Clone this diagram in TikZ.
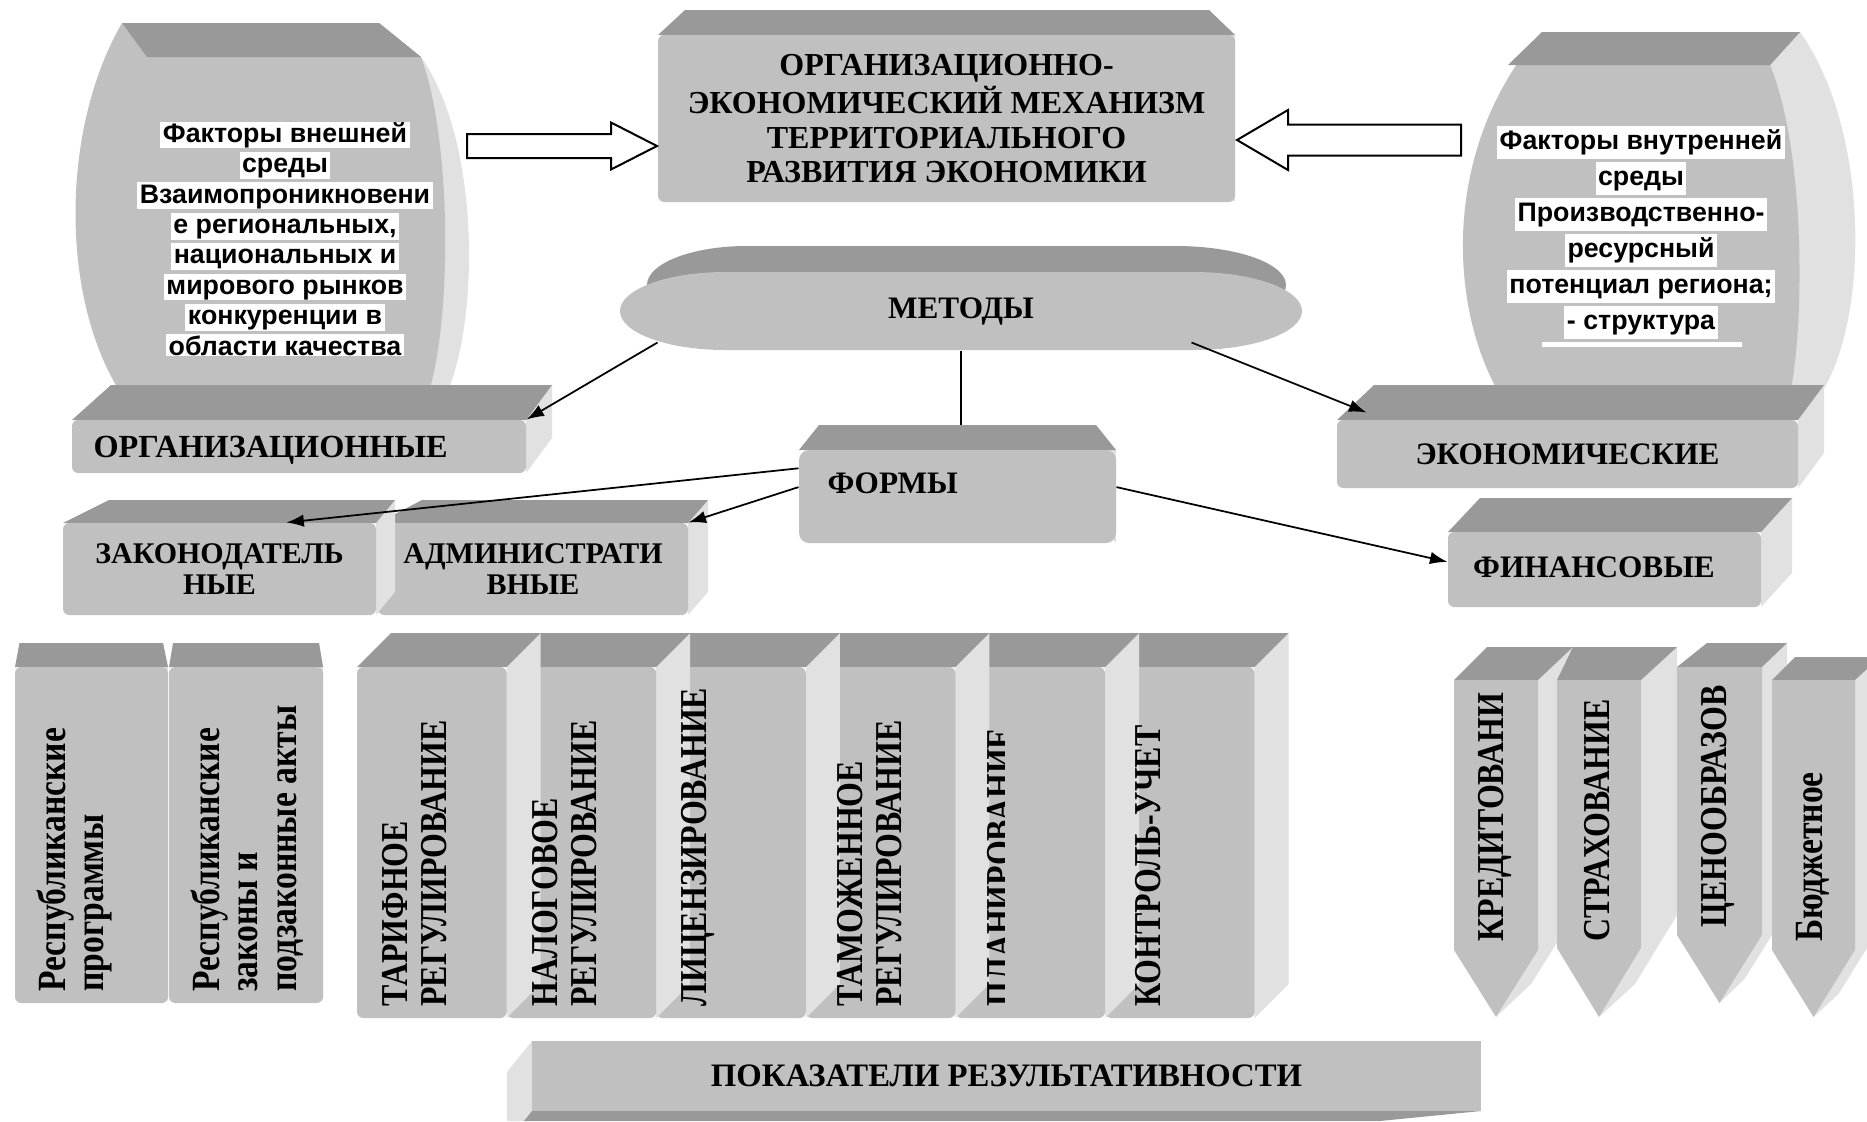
\documentclass[tikz,border=0pt]{standalone}
\usepackage{fontspec}
\setmainfont{Liberation Serif}
\newfontfamily\arialfont{Liberation Sans}
\newfontfamily\tallfont[FakeStretch=0.84]{Liberation Serif}
\usetikzlibrary{arrows.meta,calc}

\definecolor{frontgray}{RGB}{192,192,192}
\definecolor{topgray}{RGB}{153,153,153}
\definecolor{sidegray}{RGB}{225,225,225}
\newcommand{\lblfont}{\fontsize{12.5}{12.6}\selectfont\bfseries}

\tikzset{
  face/.style={fill=frontgray, rounded corners=2.5pt, inner sep=0pt, align=center, font=\lblfont},
  frontface/.style={fill=frontgray},
  topface/.style={fill=topgray},
  sideface/.style={fill=sidegray},
  lbl/.style={inner sep=0pt, align=center, font=\lblfont},
  hl/.style={fill=white, inner xsep=1pt, inner ysep=0pt, text height=8.3pt, text depth=2.4pt, font=\arialfont\fontsize{10.7}{12}\selectfont\bfseries},
  hlr/.style={hl, inner ysep=1.25pt},
  vtxt/.style={rotate=90, anchor=west, inner sep=0pt, align=left, font=\tallfont\fontsize{15.2}{15.6}\selectfont\bfseries},
  vsmall/.style={vtxt, font=\tallfont\fontsize{16}{15.4}\selectfont\bfseries},
  conn/.style={-{Latex[length=7pt,width=5pt]}, line width=0.7pt},
  link/.style={line width=0.7pt},
  blockarrow/.style={draw=black, fill=white, line width=0.8pt, line join=miter},
}

% box: name, front x1 y1 x2 y2, back x1 x2 y, text
\newcommand{\slab}[9]{%
  \fill[sideface] (#4,#3) -- (#7,#8) -- (#7,{#5-#3+#8}) -- (#4,#5) -- cycle;
  \fill[topface] (#2,#3) -- (#6,#8) -- (#7,#8) -- (#4,#3) -- cycle;
  \node[face, minimum width={(#4-#2)*0.4pt}, minimum height={(#5-#3)*0.4pt}] (#1) at ({(#2+#4)/2},{(#3+#5)/2}) {#9};
}
% arrow column: x1 x2, top, bottom, tip, back x1 x2 y
\newcommand{\penta}[8]{%
  \fill[sideface] (#2,#3) -- (#7,#8) -- (#7,{#4-#3+#8}) -- ({(#1+#2)/2+#7-#2},{#5-#3+#8}) -- ({(#1+#2)/2},#5) -- (#2,#4) -- cycle;
  \fill[topface] (#1,#3) -- (#6,#8) -- (#7,#8) -- (#2,#3) -- cycle;
  \fill[frontface] (#1,#3) -- (#2,#3) -- (#2,#4) -- ({(#1+#2)/2},#5) -- (#1,#4) -- cycle;
}

\begin{document}
\begin{tikzpicture}[x=0.4pt,y=0.4pt,yscale=-1,xscale=1]
\useasboundingbox (0,0) rectangle (1867,1121);
\clip (0,0) rectangle (1867,1121);

%Shape: Can left
\fill[sideface] (379,23) -- (421,57) .. controls (480,140) and (480,320) .. (446,395) -- (300,395) -- (300,23) -- cycle;
\fill[frontface] (122,23) -- (379,23) -- (421,57) .. controls (452,140) and (452,320) .. (428,395) -- (122,395) .. controls (60,300) and (60,130) .. (122,23) -- cycle;
\fill[topface] (122,23) -- (379,23) -- (421,57) -- (147,57) -- cycle;
% Text Node
\begin{scope}
\clip (60,100) rectangle (470,355);
\foreach \entry [count=\i] in {Факторы внешней, среды, Взаимопроникновени, {е региональных,}, национальных и, мирового рынков, конкуренции в, области качества}
  \node[hl] (extl\i) at (285,{135+30.4*(\i-1)}) {\entry};
\end{scope}

%Shape: Can right
\fill[sideface] (1800,32) .. controls (1870,130) and (1870,320) .. (1820,395) -- (1700,395) -- (1700,32) -- cycle;
\fill[frontface] (1542,32) -- (1800,32) -- (1770,65) .. controls (1805,150) and (1805,320) .. (1790,395) -- (1500,395) .. controls (1445,300) and (1445,140) .. (1542,32) -- cycle;
\fill[topface] (1542,32) -- (1800,32) -- (1770,65) -- (1508,65) -- cycle;
% Text Node
\foreach \entry [count=\i] in {Факторы внутренней, среды, Производственно-, ресурсный, {потенциал региона;}, - структура}
  \node[hlr] (intl\i) at (1641,{142+36*(\i-1)}) {\entry};
\fill[white] (1542,342) rectangle (1742,347);

%Shape: Box title
\begin{scope}[face/.append style={font=\fontsize{12.8}{12.9}\selectfont\bfseries}]
\slab{mech}{658}{35}{1235}{202}{685}{1209}{10}{ОРГАНИЗАЦИОННО-\\[0.8pt]ЭКОНОМИЧЕСКИЙ МЕХАНИЗМ\\[0.8pt]ТЕРРИТОРИАЛЬНОГО\\[0.8pt]РАЗВИТИЯ ЭКОНОМИКИ}
\end{scope}

%Right Arrow
\coordinate (extR) at (467,146);
\coordinate (mechL) at (657,146);
\draw[blockarrow] (extR) ++(0,-12) -- ++(144,0) -- ++(0,-11.5) -- (mechL) -- ++(-46,23.5) -- ++(0,-11.5) -- ++(-144,0) -- cycle;
%Left Arrow
\coordinate (intL) at (1461,140);
\coordinate (mechR) at (1237,140);
\draw[blockarrow] (intL) ++(0,-15.5) -- ++(-173,0) -- ++(0,-14.5) -- (mechR) -- ++(51,30) -- ++(0,-14.5) -- ++(173,0) -- cycle;

%Shape: Disc
\fill[topface] (747,246) -- (1176,246) arc(-90:90:110 and 39) -- (747,324) arc(90:270:100 and 39) -- cycle;
\fill[frontface] (725,272) -- (1194,272) arc(-90:90:108 and 39) -- (725,350) arc(90:270:105 and 39) -- cycle;
\node[lbl, minimum width=272.8pt, minimum height=31.2pt] (met) at (961,311) {МЕТОДЫ};

%Shape: Boxes
\slab{org}{72}{420}{526}{473}{111}{552}{385}{}
\node[lbl, anchor=west, font=\fontsize{12.9}{13}\selectfont\bfseries] (orgtxt) at (93,450) {ОРГАНИЗАЦИОННЫЕ};
\slab{econ}{1337}{420}{1798}{488}{1374}{1824}{385}{ЭКОНОМИЧЕСКИЕ}
\begin{scope}[face/.append style={rounded corners=4pt}]
\slab{form}{799}{450}{1116}{543}{819}{1096}{425}{}
\end{scope}
\node[lbl, anchor=west] (formtxt) at (827,483) {ФОРМЫ};
\begin{scope}[face/.append style={font=\fontsize{12}{12.6}\selectfont\bfseries}]
\slab{adm}{378}{523}{688}{615}{422}{708}{500}{АДМИНИСТРАТИ\\ВНЫЕ}
\slab{zak}{63}{523}{376}{615}{109}{395}{500}{ЗАКОНОДАТЕЛЬ\\НЫЕ}
\end{scope}
\slab{fin}{1448}{532}{1761}{607}{1480}{1792}{498}{}
\node[lbl] (fintxt) at (1594,567) {ФИНАНСОВЫЕ};

%Straight Lines
\coordinate (formtop) at ($(form.north)+(0,-25)$);
\draw[link] (met.south) -- (met.south |- formtop);
\draw[conn] ($(met.south west)+(38,-8)$) -- (org.north east);
\draw[conn] ($(met.south east)+(-111,-8)$) -- ($(econ.north west)+(30,-7)$);
\draw[conn] ($(form.north west)!0.2!(form.south west)$) -- ($(zak.north west)!0.713!(zak.north east)$);
\draw[conn] ($(form.north west)!0.4!(form.south west)$) -- (adm.north east);
\draw[conn] ($(form.north east)!0.4!(form.south east)$) -- ($(fin.north west)!0.4!(fin.south west)$);

%Shape: Columns left
\slab{progs}{15}{667}{168}{1003}{19.5}{163}{643}{}
\slab{laws}{169}{667}{323}{1003}{173}{319}{643}{}
% Text Node
\node[vsmall] (progstxt) at (74.5,992) {Республиканские\\программы};
\node[vsmall] (lawstxt) at (247,992) {Республиканские\\законы и\\подзаконные акты};

%Shape: Columns middle
\slab{colf}{1105}{667}{1254.6}{1018}{1139}{1288.6}{633}{}
\slab{cole}{955.4}{667}{1105}{1018}{989.4}{1139}{633}{}
\slab{cold}{805.8}{667}{955.4}{1018}{839.8}{989.4}{633}{}
\slab{colc}{656.2}{667}{805.8}{1018}{690.2}{839.8}{633}{}
\slab{colb}{506.6}{667}{656.2}{1018}{540.6}{690.2}{633}{}
\slab{cola}{357}{667}{506.6}{1018}{391}{540.6}{633}{}
% Text Node
\node[vtxt] (colatxt) at (415,1007) {ТАРИФНОЕ\\РЕГУЛИРОВАНИЕ};
\node[vtxt] (colbtxt) at (565,1007) {НАЛОГОВОЕ\\РЕГУЛИРОВАНИЕ};
\node[vtxt] (colctxt) at (698,1007) {ЛИЦЕНЗИРОВАНИЕ};
\node[vtxt] (coldtxt) at (869.5,1007) {ТАМОЖЕННОЕ\\РЕГУЛИРОВАНИЕ};
\begin{scope}
\clip (950,690) rectangle (1004,1020);
\node[vtxt] (coletxt) at (1000,1007) {ПЛАНИРОВАНИЕ};
\end{scope}
\node[vtxt] (colftxt) at (1148,1007) {КОНТРОЛЬ-УЧЕТ};

%Shape: Pentagons
\penta{1454}{1538}{680}{950}{1017}{1487}{1573}{647}
\penta{1557}{1641}{680}{948}{1017}{1573}{1677}{647}
\penta{1677}{1762}{667}{935}{1003}{1707}{1787}{643}
\penta{1772}{1855}{680}{950}{1017}{1795}{1880}{657}
% Text Node
\node[vtxt] (kredtxt) at (1495,942) {КРЕДИТОВАНИ};
\node[vtxt] (strahtxt) at (1597,942) {СТРАХОВАНИЕ};
\node[vtxt] (cenotxt) at (1718,928) {ЦЕНООБРАЗОВ};
\node[vsmall] (budgtxt) at (1813,942) {Бюджетное};

%Shape: Bar
\fill[sideface] (532,1041) -- (507,1072) -- (507,1121) -- (524,1121) -- (532,1111) -- cycle;
\fill[topface] (532,1111) -- (1481,1111) -- (1380,1121) -- (524,1121) -- cycle;
\node[face, rounded corners=0pt, font=\fontsize{13.1}{13.2}\selectfont\bfseries, minimum width=379.6pt, minimum height=28pt] (res) at (1006.5,1076) {ПОКАЗАТЕЛИ РЕЗУЛЬТАТИВНОСТИ};
\end{tikzpicture}
\end{document}
